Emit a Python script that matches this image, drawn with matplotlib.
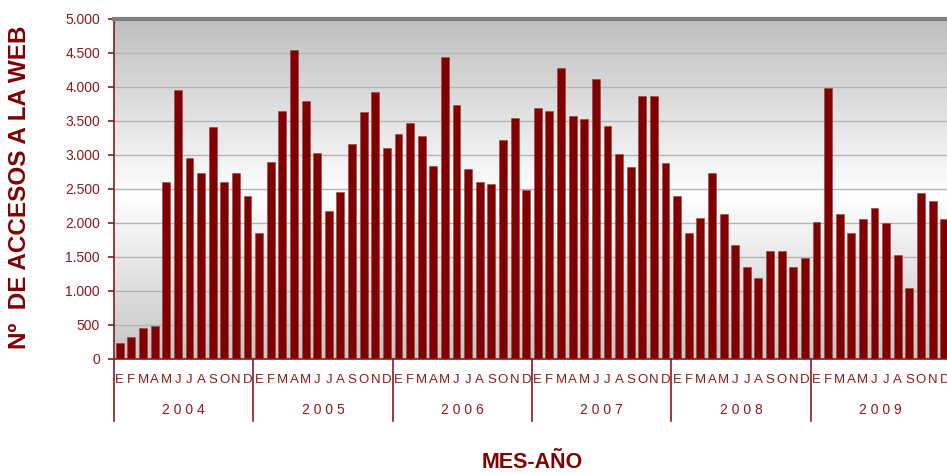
# -*- coding: utf-8 -*-
import matplotlib
matplotlib.use('Agg')
import matplotlib.pyplot as plt
import matplotlib.transforms as mtransforms
import numpy as np

# accesos mensuales a la web, 2004-2009
years = ['2004', '2005', '2006', '2007', '2008', '2009']
months = ['E', 'F', 'M', 'A', 'M', 'J', 'J', 'A', 'S', 'O', 'N', 'D']

acc_2004 = [240, 320, 455, 485, 2600, 3960, 2950, 2730, 3410, 2600, 2730, 2400]
acc_2005 = [1850, 2890, 3650, 4550, 3790, 3030, 2170, 2460, 3160, 3630, 3930, 3100]
acc_2006 = [3310, 3470, 3280, 2840, 4440, 3740, 2790, 2600, 2570, 3220, 3550, 2485]
acc_2007 = [3690, 3640, 4280, 3580, 3530, 4120, 3420, 3010, 2820, 3870, 3870, 2880]
acc_2008 = [2400, 1850, 2075, 2730, 2130, 1680, 1350, 1190, 1590, 1590, 1350, 1480]
acc_2009 = [2020, 3985, 2130, 1850, 2060, 2220, 2000, 1530, 1045, 2440, 2330, 2060]

valores = acc_2004 + acc_2005 + acc_2006 + acc_2007 + acc_2008 + acc_2009
x = np.arange(len(valores))

rojo = '#800000'
texto = '#8b1a1a'
plt.rcParams['font.family'] = ['Liberation Sans', 'DejaVu Sans']

fig = plt.figure(figsize=(9.47, 4.74), dpi=100)
ax = fig.add_axes([114/947, 1 - 359/474, 836/947, 340/474])

# fondo degradado vertical: gris arriba, blanco en medio, gris abajo
ys = np.linspace(5000, 0, 200)
g = np.interp(ys, [0, 2400, 5000], [0.77, 1.0, 0.75])
grad = np.stack([g, g, g], axis=-1)[:, None, :]
ax.imshow(grad, extent=[-0.5, 71.5, 0, 5000], aspect='auto', zorder=0)

for v in range(500, 5000, 500):
    ax.axhline(v, color='#b4b4b4', lw=1, zorder=1)

ax.bar(x, valores, width=0.68, color=rojo, edgecolor='#a04040', linewidth=0.4, zorder=2)

ax.set_xlim(-0.5, 71.5)
ax.set_ylim(0, 5000)
ax.set_yticks(np.arange(0, 5001, 500))
ax.set_yticklabels([f'{v:,}'.replace(',', '.') for v in range(0, 5001, 500)])
ax.tick_params(axis='y', colors=texto, labelsize=10, length=4, width=1.2, direction='out', pad=6)
ax.tick_params(axis='x', bottom=False, labelbottom=False)

ax.spines['left'].set_color(texto)
ax.spines['left'].set_linewidth(1.2)
ax.spines['bottom'].set_color(texto)
ax.spines['bottom'].set_linewidth(1.2)
ax.spines['top'].set_color('#808080')
ax.spines['top'].set_linewidth(3)
ax.spines['right'].set_visible(False)

# eje de categorias en dos niveles: meses y años
trans = mtransforms.blended_transform_factory(ax.transData, ax.transAxes)
for i in range(len(valores)):
    ax.text(x[i], -0.062, months[i % 12], transform=trans, ha='center', va='center',
            color=texto, fontsize=9.5)
for k, yr in enumerate(years):
    ax.text(k * 12 + 5.5, -0.15, ' '.join(yr), transform=trans,
            ha='center', va='center', color=texto, fontsize=10)
for k in range(len(years) + 1):
    ax.plot([k * 12 - 0.5, k * 12 - 0.5], [0, -0.182], transform=trans,
            color=texto, lw=1.2, clip_on=False)

fig.text(20/947, 1 - 187/474, 'Nº  DE ACCESOS A LA WEB', rotation=90, ha='center', va='center',
         color=rojo, fontsize=17.5, fontweight='bold')
fig.text(532/947, 1 - 462/474, 'MES-AÑO', ha='center', va='center',
         color=rojo, fontsize=15.5, fontweight='bold')

fig.savefig('out.png', dpi=100)
